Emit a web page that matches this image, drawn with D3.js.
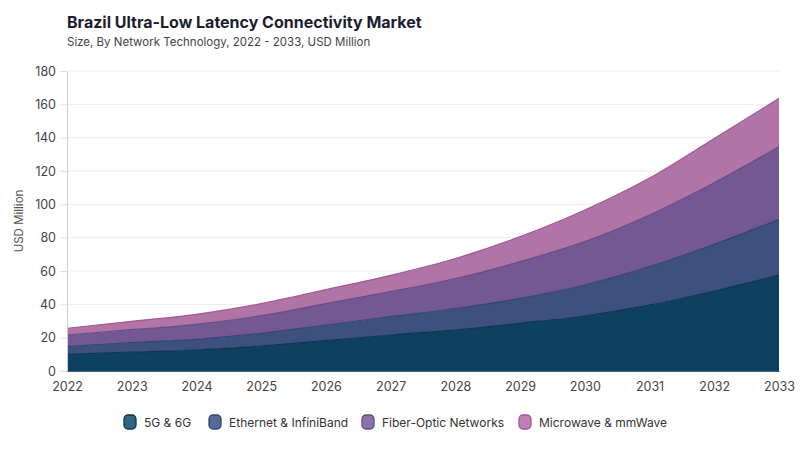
<!DOCTYPE html>
<html><head><meta charset="utf-8">
<script src="https://cdn.jsdelivr.net/npm/d3@7"></script>
<style>
body{margin:0;background:#fff;}
text{font-family:Inter,"Noto Sans",sans-serif;}
</style></head>
<body><svg id="c" width="800" height="450"></svg>
<script>
const years = [2022,2023,2024,2025,2026,2027,2028,2029,2030,2031,2032,2033];
const seriesNames = ["5G & 6G","Ethernet & InfiniBand","Fiber-Optic Networks","Microwave & mmWave"];
const fiveG     = [10, 11.4, 12.6, 15, 18.2, 21.6, 24.5, 28.6, 33, 39.5, 48, 57.6];
const ethernet  = [4.6, 5.6, 6.4, 7.6, 9.4, 11, 13, 15, 18.6, 23.1, 28, 33.4];
const fiber     = [7, 7.8, 9, 10.6, 12.8, 15, 18, 22, 26, 31, 37, 43.6];
const microwave = [4, 5, 6, 7.2, 8.4, 9.8, 12, 15, 19, 22.2, 26.5, 29];
const yTicks = [0,20,40,60,80,100,120,140,160,180];
const fills = ["#0e4060","#3d5080","#735894","#b174a6"];
const strokes = ["#0a3550","#34466f","#654b85","#a0589a"];
const swatchFills = ["#2f6580","#566a96","#8a72aa","#bf7fb5"];

const svg = d3.select("#c");
const m = {l:67, r:21, t:71, b:79};
const W = 800, H = 450;
const x = d3.scaleLinear().domain([2022,2033]).range([m.l, W-m.r]);
const y = d3.scaleLinear().domain([0,180]).range([H-m.b, m.t]);

const rows = years.map((yr,i)=>({year:yr, "5G & 6G":fiveG[i], "Ethernet & InfiniBand":ethernet[i], "Fiber-Optic Networks":fiber[i], "Microwave & mmWave":microwave[i]}));
const stacked = d3.stack().keys(seriesNames)(rows);

svg.append("g").selectAll("line").data(yTicks.filter(d=>d>0)).join("line")
  .attr("x1", m.l).attr("x2", W-m.r).attr("y1", d=>y(d)).attr("y2", d=>y(d))
  .attr("stroke","#ececec").attr("stroke-width",1);

const area = d3.area().x(d=>x(d.data.year)).y0(d=>y(d[0])).y1(d=>y(d[1])).curve(d3.curveMonotoneX);
const line = d3.line().x(d=>x(d.data.year)).y(d=>y(d[1])).curve(d3.curveMonotoneX);

svg.append("g").selectAll("path").data(stacked).join("path")
  .attr("d", area).attr("fill",(d,i)=>fills[i]);
svg.append("g").selectAll("path").data(stacked).join("path")
  .attr("d", line).attr("fill","none").attr("stroke",(d,i)=>strokes[i]).attr("stroke-width",1.2);

const ya = svg.append("g").attr("transform",`translate(${m.l},0)`)
  .call(d3.axisLeft(y).tickValues(yTicks).tickSize(7).tickPadding(4));
ya.select(".domain").attr("stroke","#cfcfcf");
ya.selectAll(".tick line").attr("stroke","#e0e0e0");
ya.selectAll("text").attr("fill","#444").style("font-size","12.5px").style("font-family","Inter,sans-serif");

const xa = svg.append("g").attr("transform",`translate(0,${H-m.b})`)
  .call(d3.axisBottom(x).tickValues(years).tickFormat(d3.format("d")).tickSize(0).tickPadding(11));
xa.select(".domain").attr("stroke","#44607a");
xa.selectAll("text").attr("fill","#444").style("font-size","12.5px").style("font-family","Inter,sans-serif");

svg.append("text").attr("transform",`translate(23,${(m.t+H-m.b)/2}) rotate(-90)`)
  .attr("text-anchor","middle").attr("fill","#555").style("font-size","11.5px").text("USD Million");

svg.append("text").attr("x",67).attr("y",28).attr("fill","#1d1d2e")
  .style("font-size","16px").style("font-weight","700").text("Brazil Ultra-Low Latency Connectivity Market");
svg.append("text").attr("x",67).attr("y",46).attr("fill","#444")
  .style("font-size","11.5px").text("Size, By Network Technology, 2022 - 2033, USD Million");

const legX = [124, 209, 362, 519];
const lg = svg.append("g").selectAll("g").data(seriesNames).join("g")
  .attr("transform",(d,i)=>`translate(${legX[i]},415)`);
lg.append("rect").attr("width",12).attr("height",14).attr("rx",4).attr("y",0)
  .attr("fill",(d,i)=>swatchFills[i]).attr("stroke",(d,i)=>strokes[i]).attr("stroke-width",1.3);
lg.append("text").attr("x",20).attr("y",11.5).attr("fill","#333").style("font-size","12px").text(d=>d);
</script></body></html>
